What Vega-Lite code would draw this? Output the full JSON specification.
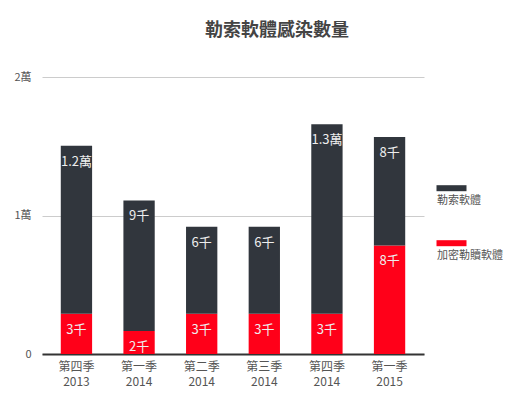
{
  "$schema": "https://vega.github.io/schema/vega-lite/v6.json",
  "width": 382,
  "height": 277,
  "autosize": "none",
  "padding": {"left": 42, "top": 77, "right": 96, "bottom": 42},
  "background": "white",
  "config": {
    "font": "Noto Sans CJK TC",
    "view": {"stroke": null}
  },
  "title": {
    "text": "勒索軟體感染數量",
    "fontSize": 18,
    "fontWeight": "bold",
    "color": "#444444",
    "anchor": "middle",
    "frame": "group",
    "baseline": "middle",
    "offset": 0,
    "dx": 44,
    "dy": -22
  },
  "data": {
    "values": [
      {"q": "第四季 2013", "type": "加密勒贖軟體", "value": 2910, "label": "3千"},
      {"q": "第四季 2013", "type": "勒索軟體", "value": 12130, "label": "1.2萬"},
      {"q": "第一季 2014", "type": "加密勒贖軟體", "value": 1660, "label": "2千"},
      {"q": "第一季 2014", "type": "勒索軟體", "value": 9430, "label": "9千"},
      {"q": "第二季 2014", "type": "加密勒贖軟體", "value": 2910, "label": "3千"},
      {"q": "第二季 2014", "type": "勒索軟體", "value": 6280, "label": "6千"},
      {"q": "第三季 2014", "type": "加密勒贖軟體", "value": 2910, "label": "3千"},
      {"q": "第三季 2014", "type": "勒索軟體", "value": 6280, "label": "6千"},
      {"q": "第四季 2014", "type": "加密勒贖軟體", "value": 2910, "label": "3千"},
      {"q": "第四季 2014", "type": "勒索軟體", "value": 13670, "label": "1.3萬"},
      {"q": "第一季 2015", "type": "加密勒贖軟體", "value": 7840, "label": "8千"},
      {"q": "第一季 2015", "type": "勒索軟體", "value": 7830, "label": "8千"}
    ]
  },
  "transform": [
    {"stack": "value", "groupby": ["q"], "sort": [{"field": "type", "order": "ascending"}], "as": ["y0", "y1"]}
  ],
  "encoding": {
    "x": {
      "field": "q",
      "type": "nominal",
      "sort": null,
      "scale": {"paddingInner": 0.5, "paddingOuter": 0.3},
      "axis": {
        "title": null,
        "labelAngle": 0,
        "labelExpr": "split(datum.label, ' ')",
        "labelFontSize": 12,
        "labelColor": "#555555",
        "labelLineHeight": 15,
        "labelPadding": 7,
        "ticks": false,
        "domainColor": "#333333",
        "domainWidth": 2
      }
    }
  },
  "layer": [
    {
      "mark": {"type": "bar"},
      "encoding": {
        "y": {
          "field": "y1",
          "type": "quantitative",
          "scale": {"domain": [0, 20000]},
          "axis": {
            "title": null,
            "values": [0, 10000, 20000],
            "labelExpr": "datum.value == 0 ? '0' : (datum.value / 10000) + '萬'",
            "labelFontSize": 11,
            "labelColor": "#555555",
            "labelPadding": 11,
            "ticks": false,
            "domain": false,
            "gridColor": "#cccccc",
            "gridWidth": 1
          }
        },
        "y2": {"field": "y0"},
        "color": {
          "field": "type",
          "type": "nominal",
          "scale": {"domain": ["勒索軟體", "加密勒贖軟體"], "range": ["#31363d", "#ff0019"]},
          "legend": {
            "title": null,
            "orient": "none",
            "legendX": 394,
            "legendY": 118,
            "padding": 0,
            "direction": "vertical",
            "symbolType": "M-1,-3.06H5V-1.86H-1Z",
            "symbolSize": 100,
            "symbolStrokeWidth": 0,
            "labelOffset": -10,
            "labelFontSize": 11,
            "labelColor": "#555555",
            "rowPadding": 34
          }
        }
      }
    },
    {
      "mark": {"type": "text", "baseline": "middle", "dy": 16, "fontSize": 13, "color": "#eeeeee"},
      "encoding": {
        "y": {"field": "y1", "type": "quantitative"},
        "text": {"field": "label"}
      }
    }
  ]
}
